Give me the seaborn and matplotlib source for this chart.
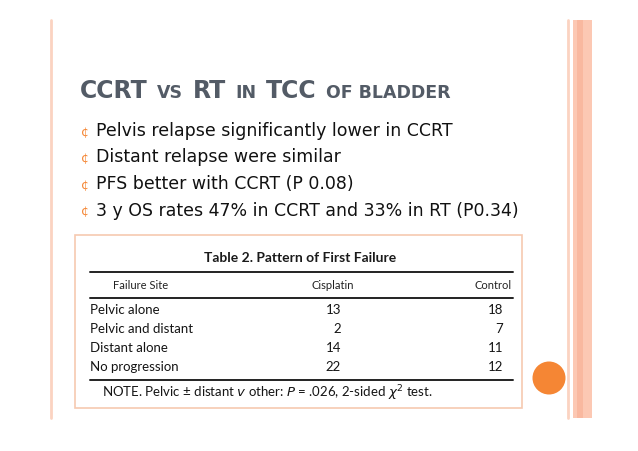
import matplotlib
matplotlib.use("Agg")
import matplotlib.pyplot as plt
from matplotlib.patches import Rectangle, Circle
import seaborn as sns

# slide content
title_parts = [("CCRT", True), ("VS", False), ("RT", True), ("IN", False),
               ("TCC", True), ("OF BLADDER", False)]
bullets = ["Pelvis relapse significantly lower in CCRT",
           "Distant relapse were similar",
           "PFS better with CCRT (P 0.08)",
           "3 y OS rates 47% in CCRT and 33% in RT (P0.34)"]

table_title = "Table 2. Pattern of First Failure"
col_headers = ["Failure Site", "Cisplatin", "Control"]
failure_sites = ["Pelvic alone", "Pelvic and distant", "Distant alone", "No progression"]
cisplatin = [13, 2, 14, 22]
control = [18, 7, 11, 12]
note = "NOTE. Pelvic \u00b1 distant $v$ other: $P$ = .026, 2-sided $\\chi^2$ test."

sns.set_theme(style="white")
plt.rcParams['font.family'] = ['DejaVu Sans']

light = "#fbd3c1"
orange = "#f58634"
title_col = "#535b66"

fig = plt.figure(figsize=(6.38, 4.51), dpi=100)
ax = fig.add_axes([0, 0, 1, 1])
ax.set_xlim(0, 638)
ax.set_ylim(451, 0)
ax.axis("off")

# decorative frame lines
ax.plot([51, 51], [20, 418], color=light, lw=2)
ax.plot([568, 568], [20, 418], color=light, lw=2)
ax.add_patch(Rectangle((573, 20), 19, 398, color="#fcc8b3", lw=0))
ax.add_patch(Rectangle((577, 20), 6, 398, color="#f9b89f", lw=0))
ax.add_patch(Circle((549, 378), 16.5, color=orange, lw=0))

# title in small caps
r = fig.canvas.get_renderer()
x = 80
for part, big in title_parts:
    t = ax.text(x, 98, part, fontsize=17 if big else 12.5, fontweight="bold",
                color=title_col, va="baseline", ha="left")
    bb = t.get_window_extent(renderer=r)
    x += bb.width + 9.5

# bullets
for i, line in enumerate(bullets):
    y = 136 + i * 26.5
    ax.text(81, y, "\u00a2", fontsize=9, color=orange, va="baseline", ha="left")
    ax.text(96, y, line, fontsize=12.5, color="#111111", va="baseline", ha="left")

# table picture
ax.add_patch(Rectangle((75, 235), 447, 173, fill=False, ec="#f6c9b0", lw=1.2))
tf = ['Lato', 'DejaVu Sans']
ax.text(300, 262, table_title, fontsize=10, fontweight="bold", ha="center",
        va="baseline", family=tf, color="#1a1a1a")
for yy in (272, 298, 380):
    ax.plot([90, 513], [yy, yy], color="#222222", lw=1.4)
ax.text(141, 289, col_headers[0], fontsize=8, ha="center", va="baseline", family=tf, color="#222222")
ax.text(333, 289, col_headers[1], fontsize=8, ha="center", va="baseline", family=tf, color="#222222")
ax.text(512, 289, col_headers[2], fontsize=8, ha="right", va="baseline", family=tf, color="#222222")
for i, site in enumerate(failure_sites):
    y = 314 + i * 19
    ax.text(90, y, site, fontsize=9.5, ha="left", va="baseline", family=tf, color="#151515")
    ax.text(341, y, str(cisplatin[i]), fontsize=9.5, ha="right", va="baseline", family=tf, color="#151515")
    ax.text(503, y, str(control[i]), fontsize=9.5, ha="right", va="baseline", family=tf, color="#151515")
ax.text(102, 397, note, fontsize=9.5, ha="left", va="baseline", family=tf, color="#151515")

fig.savefig("out.png", dpi=100, facecolor="white")
